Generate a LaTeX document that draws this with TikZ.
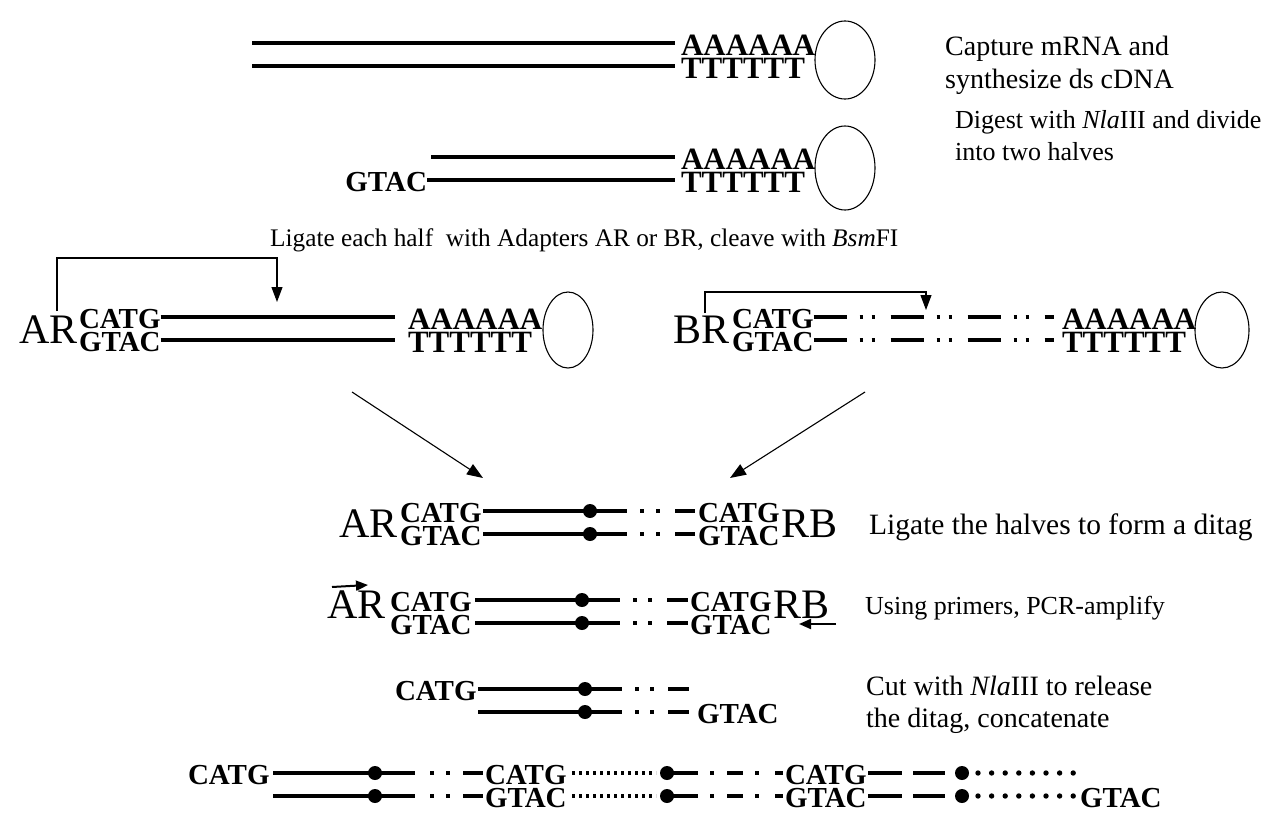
\documentclass[tikz,border=0pt]{standalone}
\usepackage{fontspec}
\setmainfont{Liberation Serif}
\usetikzlibrary{shapes.geometric,arrows.meta}
\newcommand\lblf{\fontsize{29}{29}\selectfont\bfseries}
\newcommand\polyf{\fontsize{31}{31}\selectfont\bfseries}
\newcommand\adf{\fontsize{42}{42}\selectfont}
\newcommand\tsz[1]{\fontsize{#1}{#1}\selectfont}
\begin{document}
\begin{tikzpicture}[x=1pt,y=-1pt,
 strand/.style={line width=3.6pt},
 thinl/.style={line width=1.1pt},
 lbl/.style={font=\lblf, inner sep=0pt, outer sep=0pt, anchor=west, text height=18pt, text depth=0pt},
 poly/.style={font=\polyf, inner sep=0pt, outer sep=0pt, anchor=west, text height=19pt, text depth=0pt},
 adp/.style={font=\adf, inner sep=0pt},
 blob/.style={draw, ellipse, line width=1.1pt, inner sep=0pt},
 bigdot/.style={circle, fill, inner sep=0pt, minimum size=14pt},
 note/.style={inner sep=0pt, anchor=base west},
 dashdot/.style={strand, dash pattern=on 33pt off 13pt on 3pt off 9pt on 3pt off 16pt},
 dotted line/.style={strand, dash pattern=on 3pt off 4pt},
 arr/.style={-{Triangle[length=16pt,width=12pt]}, line width=1.1pt},
 parr/.style={-{Triangle[length=12pt,width=10pt]}, line width=2pt}
]
\useasboundingbox (0,0) rectangle (1267,819);

% ---------- Row 1
\coordinate (r1s) at (252,43); \coordinate (r1e) at (675,43);
\coordinate (r1s2) at (252,66); \coordinate (r1e2) at (675,66);
\draw[strand] (r1s) -- (r1e);
\draw[strand] (r1s2) -- (r1e2);
\node[poly] (A1) at (681,46) {AAAAAA};
\node[poly] (T1) at (681,69) {TTTTTT};
\node[blob, minimum width=60pt, minimum height=78pt] (E1) at (845,60) {};
\node[note, font={\tsz{28}}] (t1a) at (945,55) {Capture mRNA and};
\node[note, font={\tsz{28}}] (t1b) at (945,88) {synthesize ds cDNA};

% ---------- Row 2
\node[lbl, anchor=east] (G2) at (427,182) {GTAC};
\draw[strand] (431,157) -- (675,157);
\draw[strand] (G2.east |- 0,180) -- (675,180);
\node[poly] (A2) at (681,160) {AAAAAA};
\node[poly] (T2) at (681,183) {TTTTTT};
\node[blob, minimum width=60pt, minimum height=84pt] (E2) at (845,168) {};
\node[note, font={\tsz{26}}] (t2a) at (955,128) {Digest with \textit{Nla}III and divide};
\node[note, font={\tsz{26}}] (t2b) at (955,160) {into two halves};

% ---------- Row 3
\node[note, font={\tsz{25.3}}] (t3) at (270,246) {Ligate each half\ \ with Adapters AR or BR, cleave with \textit{Bsm}FI};

% ---------- Row 4, AR
\node[adp, anchor=base east] (AR4) at (78,343) {AR};
\node[lbl] (C4) at (79,319) {CATG};
\node[lbl] (G4) at (79,342) {GTAC};
\draw[strand] (C4.east |- 0,317) -- (395,317);
\draw[strand] (G4.east |- 0,340) -- (395,340);
\node[poly] (A4) at (408,320) {AAAAAA};
\node[poly] (T4) at (408,343) {TTTTTT};
\node[blob, minimum width=50pt, minimum height=76pt] (E4) at (568,330) {};
\coordinate (b4a) at (57,311);
\coordinate (b4b) at (277,302);
\draw[thinl, -{Triangle[length=15pt,width=11pt]}] (b4a) -- (57,258) -- (277,258) -- (b4b);

% ---------- Row 4, BR
\node[adp, anchor=base east] (BR4) at (730,343) {BR};
\node[lbl] (C4b) at (732,319) {CATG};
\node[lbl] (G4b) at (732,342) {GTAC};
\draw[dashdot] (C4b.east |- 0,317) -- (1054,317);
\draw[dashdot] (G4b.east |- 0,340) -- (1054,340);
\node[poly] (A4b) at (1062,320) {AAAAAA};
\node[poly] (T4b) at (1062,343) {TTTTTT};
\node[blob, minimum width=54pt, minimum height=76pt] (E4b) at (1222,330) {};
\coordinate (b4c) at (705,313);
\coordinate (b4d) at (926,310);
\draw[thinl, -{Triangle[length=15pt,width=11pt]}] (b4c) -- (705,292) -- (926,292) -- (b4d);

% ---------- converging arrows
\coordinate (d1s) at (352,392); \coordinate (d1e) at (483,478);
\coordinate (d2s) at (865,392); \coordinate (d2e) at (730,478);
\draw[arr] (d1s) -- (d1e);
\draw[arr] (d2s) -- (d2e);

% ---------- Row 5: ditag
\node[adp, anchor=base east] (AR5) at (398,537) {AR};
\node[lbl] (C5) at (400,513) {CATG};
\node[lbl] (G5) at (400,536) {GTAC};
\foreach \y in {511,534}{
  \draw[strand] (483,\y) -- (627,\y);
  \draw[strand] (640,\y) -- (644,\y);
  \draw[strand] (656,\y) -- (660,\y);
  \draw[strand] (675,\y) -- (695,\y);
  \node[bigdot] at (590,\y) {};
}
\node[lbl] (C5b) at (698,513) {CATG};
\node[lbl] (G5b) at (698,536) {GTAC};
\node[adp, anchor=base west] (RB5) at (781,537) {RB};
\node[note, font={\tsz{29.5}}] (t5) at (869,534) {Ligate the halves to form a ditag};

% ---------- Row 6: PCR
\node[adp, anchor=base east] (AR6) at (386,618) {AR};
\node[lbl] (C6) at (390,602) {CATG};
\node[lbl] (G6) at (390,625) {GTAC};
\foreach \y in {600,623}{
  \draw[strand] (475,\y) -- (620,\y);
  \draw[strand] (633,\y) -- (637,\y);
  \draw[strand] (648,\y) -- (652,\y);
  \draw[strand] (667,\y) -- (688,\y);
  \node[bigdot] at (582,\y) {};
}
\node[lbl] (C6b) at (690,602) {CATG};
\node[lbl] (G6b) at (690,625) {GTAC};
\node[adp, anchor=base west] (RB6) at (773,618) {RB};
\coordinate (p1s) at (332,587); \coordinate (p1e) at (368,585);
\coordinate (p2s) at (836,624); \coordinate (p2e) at (799,624);
\draw[parr] (p1s) -- (p1e);
\draw[parr] (p2s) -- (p2e);
\node[note, font={\tsz{26}}] (t6) at (865,614) {Using primers, PCR-amplify};

% ---------- Row 7: cut
\node[lbl] (C7) at (395,691) {CATG};
\foreach \y in {689,712}{
  \draw[strand] (478,\y) -- (622,\y);
  \draw[strand] (635,\y) -- (639,\y);
  \draw[strand] (650,\y) -- (654,\y);
  \draw[strand] (668,\y) -- (689,\y);
  \node[bigdot] at (585,\y) {};
}
\node[lbl] (G7) at (697,714) {GTAC};
\node[note, font={\tsz{28}}] (t7a) at (866,695) {Cut with \textit{Nla}III to release};
\node[note, font={\tsz{28}}] (t7b) at (866,727) {the ditag, concatenate};

% ---------- Row 8: concatemer
\node[lbl] (C8) at (188,775) {CATG};
\foreach \y in {773,796}{
  \draw[strand] (273,\y) -- (415,\y);
  \draw[strand] (430,\y) -- (434,\y);
  \draw[strand] (446,\y) -- (450,\y);
  \draw[strand] (463,\y) -- (483,\y);
  \node[bigdot] at (375,\y) {};
  \draw[dotted line] (572,\y) -- (656,\y);
  \node[bigdot] at (667,\y) {};
  \draw[strand] (667,\y) -- (698,\y);
  \draw[strand] (710,\y) -- (714,\y);
  \draw[strand] (727,\y) -- (743,\y);
  \draw[strand] (755,\y) -- (759,\y);
  \draw[strand] (775,\y) -- (783,\y);
  \draw[strand] (868,\y) -- (902,\y);
  \draw[strand] (913,\y) -- (945,\y);
  \node[bigdot] at (962,\y) {};
  \foreach \k in {0,...,7}{ \fill (978+\k*13.6,\y) circle (2.7pt); }
}
\node[lbl] (C8b) at (485,775) {CATG};
\node[lbl] (G8b) at (485,798) {GTAC};
\node[lbl] (C8c) at (785,775) {CATG};
\node[lbl] (G8c) at (785,798) {GTAC};
\node[lbl] (G8d) at (1080,798) {GTAC};
\end{tikzpicture}
\end{document}
